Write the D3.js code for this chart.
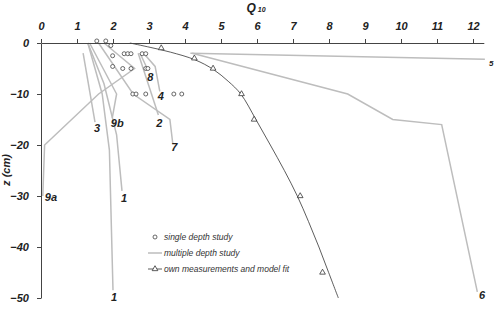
<!DOCTYPE html>
<html><head><meta charset="utf-8">
<script src="https://cdn.jsdelivr.net/npm/d3@7"></script>
<style>body{margin:0;background:#fff} svg{display:block}</style>
</head><body><svg id="c" width="494" height="311"></svg>
<script>
// ---------- data ----------
const xTicks = [0,1,2,3,4,5,6,7,8,9,10,11,12];
const yTicks = [0,-10,-20,-30,-40,-50];

// single depth studies [Q10, depth cm]
const singleDepth = [
  [1.55,0.4],[1.80,0.4],[1.94,-0.5],[1.99,-2.5],
  [2.31,-2.1],[2.41,-2.1],[2.50,-2.1],[2.81,-2.1],[2.91,-2.1],
  [1.99,-4.6],[2.27,-5.0],[2.50,-5.0],[2.91,-5.0],[2.97,-5.0],
  [2.55,-10],[2.64,-10],[2.91,-10],[3.69,-10],[3.91,-10]
];

// own measurements [Q10, depth]
const ownMeasurements = [[3.34,-1],[4.26,-3],[4.78,-5],[5.57,-10],[5.92,-15],[7.20,-30],[7.82,-45]];

// model fit [Q10, depth]
const modelFit = [[2.47,0],[3.03,-0.85],[3.6,-1.8],[4.28,-3.3],[4.79,-5.2],[5.2,-7.5],[5.55,-10],
                  [5.97,-15],[6.37,-20],[6.76,-25],[7.12,-30],[7.43,-35],[7.72,-40],[7.99,-45],[8.26,-50]];

// multiple depth studies
const studyNames = ["1","1","2","3","4","5","6","7","8","9a","9b"];
const studyLines = [
  [[1.3,0],[1.75,-8],[2.1,-18],[2.25,-29]],
  [[1.3,0],[1.7,-10],[1.9,-21],[2.0,-48.5]],
  [[2.7,-2],[3.26,-14.1]],
  [[1.17,-2],[1.5,-15.5]],
  [[2.85,-2],[3.17,-4.6],[3.3,-9.5]],
  [[4.15,-2],[12.33,-3.2]],
  [[4.2,-2],[8.52,-10],[9.77,-15],[11.13,-16],[12.12,-48.8]],
  [[1.6,0],[2.56,-10],[3.58,-15],[3.66,-19.7]],
  [[2.75,-2],[2.95,-5]],
  [[1.75,0],[2.6,-5],[1.6,-10],[0.1,-20],[0.05,-30]],
  [[1.35,0],[2.1,-10],[1.98,-14.7]]
];

const legendLabels = ["single depth study","multiple depth study","own measurements and model fit"];

// ---------- drawing ----------
const svg = d3.select("#c");
const x = d3.scaleLinear().domain([0,12.3]).range([41,483.8]);
const y = d3.scaleLinear().domain([0,-50]).range([43,298]);

const font = "'Liberation Sans', Arial, sans-serif";

// label offsets [dx, dy, anchor, size]
const labelStyle = [
  [2,11,"middle",11],[1,10.6,"middle",11],[1,12,"middle",11],[2,10,"middle",11],
  [1,9,"middle",11],[4,7,"start",8],[4.7,7,"middle",11],[1.5,8,"middle",11],
  [3,12,"middle",11],[2,4.7,"start",11],[5,9,"middle",11]
];

const line = d3.line().x(d=>x(d[0])).y(d=>y(d[1]));

svg.append("g").selectAll("path").data(studyLines).join("path")
  .attr("d", line).attr("fill","none").attr("stroke","#bdbdbd").attr("stroke-width",1.5);

// model fit
svg.append("path").datum(modelFit)
  .attr("d", d3.line().x(d=>x(d[0])).y(d=>y(d[1])).curve(d3.curveCatmullRom))
  .attr("fill","none").attr("stroke","#333").attr("stroke-width",0.8);

// axes
const xAxis = d3.axisTop(x).tickValues(xTicks).tickSize(4).tickSizeOuter(0).tickPadding(9);
const gx = svg.append("g").attr("transform",`translate(0,${y(0)})`).call(xAxis);
const yAxis = d3.axisLeft(y).tickValues(yTicks).tickSize(4).tickSizeOuter(0).tickPadding(8).tickFormat(d3.format("d"));
const gy = svg.append("g").attr("transform",`translate(${x(0)},0)`).call(yAxis);
[gx,gy].forEach(g=>{
  g.selectAll("path,line").attr("stroke","#444").attr("stroke-width",1);
  g.selectAll("text").attr("font-family",font).attr("font-size",11)
   .attr("font-weight","bold").attr("font-style","italic").attr("fill","#222");
});
gy.selectAll("text").attr("dy","0.36em");

// circles
svg.append("g").selectAll("circle").data(singleDepth).join("circle")
  .attr("cx",d=>x(d[0])).attr("cy",d=>y(d[1])).attr("r",2)
  .attr("fill","#fff").attr("stroke","#444").attr("stroke-width",0.8);

// triangles
const tri = d3.symbol().type(d3.symbolTriangle).size(14);
svg.append("g").selectAll("path").data(ownMeasurements).join("path")
  .attr("d",tri).attr("transform",d=>`translate(${x(d[0])},${y(d[1])})`)
  .attr("fill","#fff").attr("stroke","#333").attr("stroke-width",0.8);

// line labels
svg.append("g").selectAll("text").data(studyLines).join("text")
  .attr("x",(d,i)=>x(d[d.length-1][0])+labelStyle[i][0])
  .attr("y",(d,i)=>y(d[d.length-1][1])+labelStyle[i][1])
  .attr("text-anchor",(d,i)=>labelStyle[i][2])
  .attr("font-size",(d,i)=>labelStyle[i][3])
  .attr("font-family",font).attr("font-weight","bold").attr("font-style","italic").attr("fill","#222")
  .text((d,i)=>studyNames[i]);

// axis titles
const qt = svg.append("text").attr("x",246.5).attr("y",11.5).attr("font-family",font)
  .attr("font-weight","bold").attr("font-style","italic").attr("fill","#222").attr("font-size",12);
qt.append("tspan").text("Q");
qt.append("tspan").attr("dx",2).attr("font-size",7).text("10");

svg.append("text").attr("transform","translate(10,170) rotate(-90)").attr("text-anchor","middle")
  .attr("font-family",font).attr("font-weight","bold").attr("font-style","italic").attr("fill","#222")
  .attr("font-size",11).text("z (cm)");

// legend
const lg = svg.append("g");
const ly = [237,253,269];
lg.append("circle").attr("cx",155).attr("cy",ly[0]).attr("r",2).attr("fill","#fff").attr("stroke","#444").attr("stroke-width",0.8);
lg.append("line").attr("x1",148).attr("x2",162).attr("y1",ly[1]).attr("y2",ly[1]).attr("stroke","#bdbdbd").attr("stroke-width",1.5);
lg.append("line").attr("x1",148).attr("x2",162).attr("y1",ly[2]).attr("y2",ly[2]).attr("stroke","#333").attr("stroke-width",0.8);
lg.append("path").attr("d",tri).attr("transform",`translate(155,${ly[2]})`).attr("fill","#fff").attr("stroke","#333").attr("stroke-width",0.8);
lg.selectAll("text").data(legendLabels).join("text")
  .attr("x",164).attr("y",(d,i)=>ly[i]+3).attr("font-family",font).attr("font-style","italic")
  .attr("font-size",8.5).attr("fill","#333").text(d=>d);
</script></body></html>
